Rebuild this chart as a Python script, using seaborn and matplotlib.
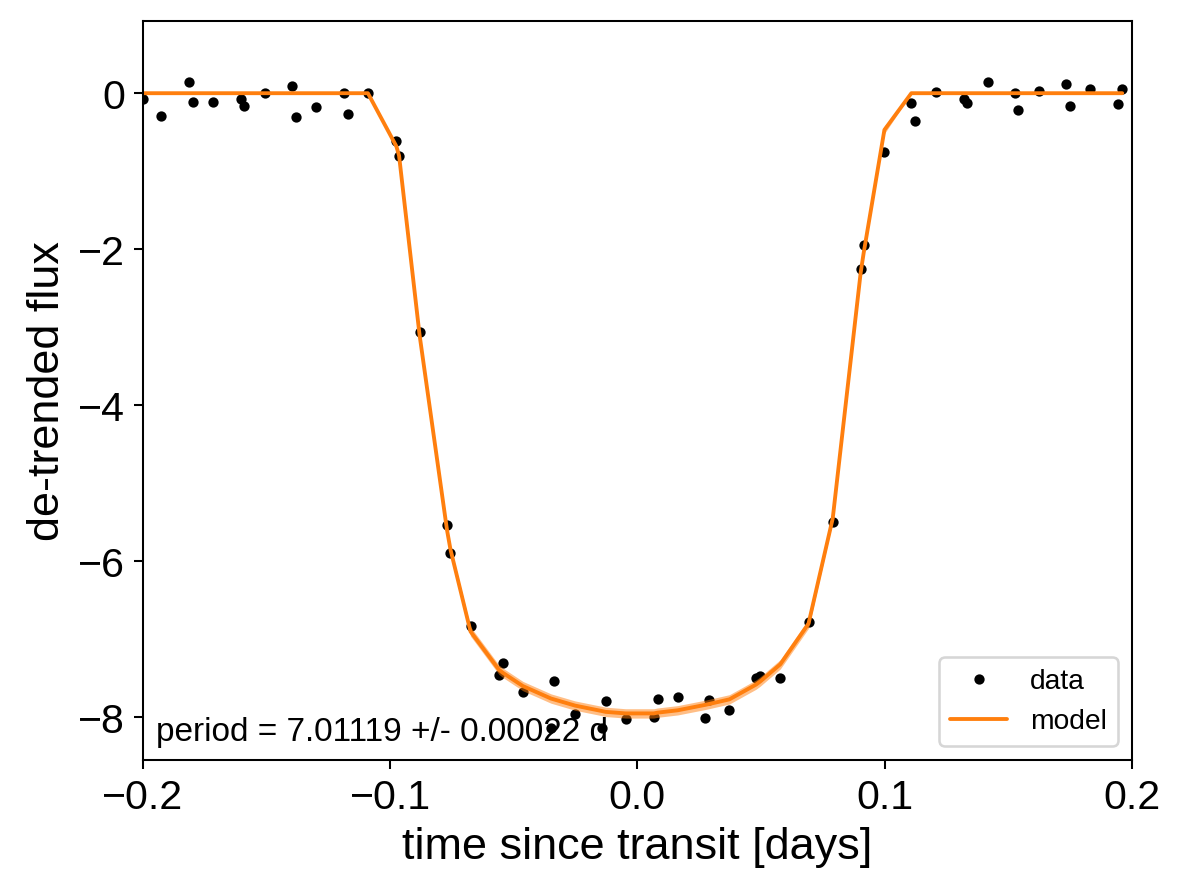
import numpy as np
import pandas as pd
import matplotlib
matplotlib.use("Agg")
import matplotlib.pyplot as plt
import seaborn as sns

# folded light curve
time_days = [
    -0.1998, -0.1927, -0.1813, -0.1797, -0.1716, -0.1604, -0.1590, -0.1506,
    -0.1397, -0.1382, -0.1300, -0.1187, -0.1172, -0.1090, -0.0975, -0.0964,
    -0.0881, -0.0770, -0.0756, -0.0675, -0.0560, -0.0544, -0.0463, -0.0349,
    -0.0338, -0.0252, -0.0143, -0.0129, -0.0048, 0.0066, 0.0082, 0.0163,
    0.0275, 0.0289, 0.0372, 0.0480, 0.0497, 0.0578, 0.0692, 0.0790,
    0.0903, 0.0915, 0.0999, 0.1108, 0.1123, 0.1206, 0.1319, 0.1335,
    0.1416, 0.1529, 0.1540, 0.1626, 0.1734, 0.1750, 0.1832, 0.1945, 0.1961,
]
flux = [
    -0.08, -0.29, 0.15, -0.11, -0.11, -0.08, -0.17, 0.00,
    0.09, -0.30, -0.18, 0.00, -0.27, 0.00, -0.61, -0.80,
    -3.06, -5.54, -5.89, -6.83, -7.46, -7.30, -7.68, -8.14,
    -7.53, -7.96, -8.14, -7.79, -8.02, -8.00, -7.77, -7.74,
    -8.01, -7.78, -7.90, -7.50, -7.47, -7.50, -6.78, -5.50,
    -2.25, -1.95, -0.75, -0.12, -0.36, 0.02, -0.08, -0.12,
    0.14, 0.00, -0.22, 0.03, 0.12, -0.16, 0.05, -0.14, 0.05,
]
# median model evaluated at the same times
model = [
    0.0, 0.0, 0.0, 0.0, 0.0, 0.0, 0.0, 0.0,
    0.0, 0.0, 0.0, 0.0, 0.0, 0.0, -0.68, -0.80,
    -3.10, -5.60, -5.85, -6.90, -7.39, -7.43, -7.60, -7.76,
    -7.77, -7.85, -7.92, -7.93, -7.95, -7.95, -7.94, -7.91,
    -7.84, -7.83, -7.77, -7.58, -7.54, -7.32, -6.80, -5.45,
    -2.30, -2.05, -0.47, 0.0, 0.0, 0.0, 0.0, 0.0,
    0.0, 0.0, 0.0, 0.0, 0.0, 0.0, 0.0, 0.0, 0.0,
]
# half width of the 16-84 percentile band
model_spread = [
    0.0, 0.0, 0.0, 0.0, 0.0, 0.0, 0.0, 0.0,
    0.0, 0.0, 0.0, 0.0, 0.0, 0.0, 0.03, 0.03,
    0.03, 0.04, 0.04, 0.06, 0.06, 0.06, 0.06, 0.06,
    0.06, 0.06, 0.06, 0.06, 0.06, 0.06, 0.06, 0.06,
    0.06, 0.06, 0.06, 0.06, 0.06, 0.06, 0.06, 0.04,
    0.03, 0.03, 0.05, 0.0, 0.0, 0.0, 0.0, 0.0,
    0.0, 0.0, 0.0, 0.0, 0.0, 0.0, 0.0, 0.0, 0.0,
]
period_text = "period = 7.01119 +/- 0.00022 d"

df = pd.DataFrame({"t": time_days, "flux": flux, "model": model,
                   "spread": model_spread})

sns.set_style("ticks")
plt.rcParams['font.family'] = ['Liberation Sans', 'DejaVu Sans']
plt.rcParams['axes.unicode_minus'] = True
# plain black text and axes like the default matplotlib look
for key in ['text.color', 'axes.labelcolor', 'xtick.color', 'ytick.color',
            'axes.edgecolor']:
    plt.rcParams[key] = 'black'

fig, ax = plt.subplots(figsize=(6.4, 4.83), dpi=185)
fig.subplots_adjust(left=0.1207, right=0.956, top=0.9754, bottom=0.1486)

ax.plot(df["t"], df["flux"], ".k", label="data", zorder=-1000)
sns.lineplot(data=df, x="t", y="model", color="C1", label="model",
             sort=False, estimator=None, ax=ax, linewidth=1.5)
ax.fill_between(df["t"], df["model"] - df["spread"], df["model"] + df["spread"],
                color="C1", alpha=0.5, zorder=1000, linewidth=0)

ax.annotate(period_text, (0, 0), xycoords="axes fraction",
            xytext=(5, 5), textcoords="offset points",
            ha="left", va="bottom", fontsize=13)

ax.legend(fontsize=11, loc=4)
ax.set_xlim(-0.2, 0.2)
ax.set_ylim(-8.55, 0.92)
ax.set_xticks([-0.2, -0.1, 0.0, 0.1, 0.2])
ax.set_yticks([-8, -6, -4, -2, 0])
ax.tick_params(labelsize=16, color='black')
ax.set_xlabel("time since transit [days]", fontsize=17.5)
ax.set_ylabel("de-trended flux", fontsize=17.5)
for s in ax.spines.values():
    s.set_visible(True)
    s.set_color('black')

fig.savefig("out.png", dpi=185)
